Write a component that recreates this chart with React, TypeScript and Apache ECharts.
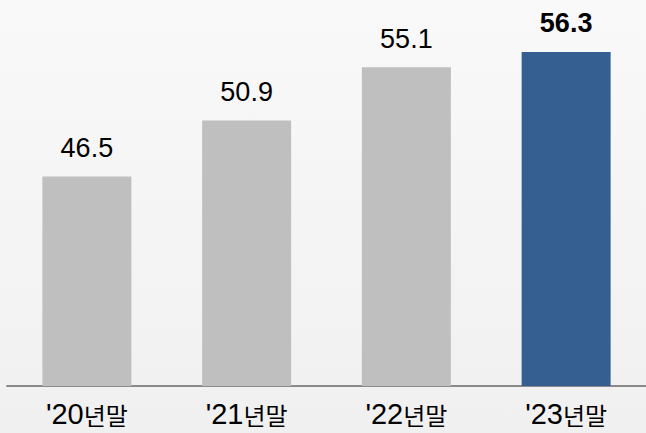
import React, { useEffect, useRef } from "react";
import * as echarts from "echarts";

const categories = ["'20년말", "'21년말", "'22년말", "'23년말"];
const values = [46.5, 50.9, 55.1, 56.3];
const barColors = ["#bfbfbf", "#bfbfbf", "#bfbfbf", "#355f91"];
const boldFlags = [false, false, false, true];

export default function App() {
  const ref = useRef<HTMLDivElement>(null);
  useEffect(() => {
    if (!ref.current) return;
    const chart = echarts.init(ref.current, undefined, { renderer: "svg" });
    chart.setOption({
      animation: false,
      backgroundColor: {
        type: "linear",
        x: 0,
        y: 0,
        x2: 0,
        y2: 1,
        colorStops: [
          { offset: 0, color: "#f9f9f9" },
          { offset: 1, color: "#f0f0f0" },
        ],
      },
      grid: { left: 7, width: 642, top: 5, bottom: 47, containLabel: false },
      xAxis: {
        type: "category",
        data: categories,
        axisLine: { show: true, lineStyle: { color: "#8a8a8a", width: 2 } },
        axisTick: { show: false },
        axisLabel: {
          margin: 13,
          formatter: (v: string) => {
            const num = v.slice(0, 3);
            const rest = v.slice(3);
            return `{a|${num}}{b|${rest}}`;
          },
          rich: {
            a: {
              fontFamily: "Liberation Sans, Arial, sans-serif",
              fontSize: 29,
              lineHeight: 30,
              color: "#000",
            },
            b: {
              fontFamily: "Noto Sans CJK KR, sans-serif",
              fontSize: 24,
              lineHeight: 30,
              color: "#000",
            },
          },
        },
      },
      yAxis: {
        type: "value",
        min: 30,
        max: 60,
        show: false,
        splitLine: { show: false },
      },
      series: [
        {
          type: "bar",
          barWidth: 89,
          data: values.map((v, i) => ({
            value: v,
            itemStyle: { color: barColors[i] },
            label: {
              show: true,
              position: "top",
              distance: 15,
              color: "#000",
              fontFamily: "Liberation Sans, Arial, sans-serif",
              fontSize: 27,
              fontWeight: boldFlags[i] ? "bold" : "normal",
              formatter: (p: any) => Number(p.value).toFixed(1),
            },
          })),
        },
      ],
    });
    return () => chart.dispose();
  }, []);
  return (
    <div
      ref={ref}
      style={{ position: "fixed", left: 0, top: 0, width: 646, height: 433 }}
    />
  );
}
